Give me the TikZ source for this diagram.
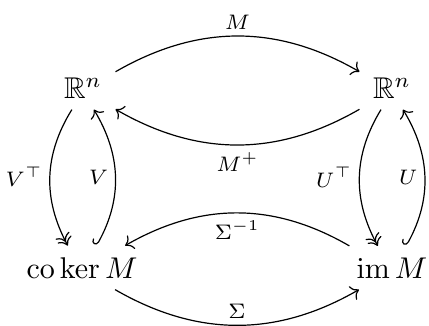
\documentclass[tikz,border=0pt]{standalone}
\usepackage{amsmath,amssymb}
\usetikzlibrary{cd}
\begin{document}
\begin{tikzpicture}[x=0.3333pt,y=-0.3333pt,
  obj/.style={shape=asymmetrical rectangle,anchor=base,inner xsep=1ex,inner ysep=0.85ex},
  arr/.style={-{tikzcd to}},
  lbl/.style={auto,font=\scriptsize,inner sep=0.5ex}]
\useasboundingbox (0,0) rectangle (429,325);
\node[obj] (A) at (83,98) {$\mathbb{R}^n$};
\node[obj] (B) at (392,98) {$\mathbb{R}^n$};
\node[obj] (C) at (82,278) {$\operatorname{co}\ker M$};
\node[obj] (D) at (392,278) {$\operatorname{im} M$};
\draw[arr] (A) to[bend left=30] node[lbl] {$M$} (B);
\draw[arr] (B) to[bend left=30] node[lbl] {$M^+$} (A);
\draw[arr,commutative diagrams/two heads] (A) to[bend right=30] node[lbl,swap] {$V^\top$} (C);
\draw[arr,commutative diagrams/hook] (C) to[bend right=30] node[lbl] {$V$} (A);
\draw[arr,commutative diagrams/two heads] (B) to[bend right=30] node[lbl,swap] {$U^\top$} (D);
\draw[arr,commutative diagrams/hook] (D) to[bend right=30] node[lbl] {$U$} (B);
\draw[arr] (D) to[bend right=30] node[lbl] {$\Sigma^{-1}$} (C);
\draw[arr] (C) to[bend right=30] node[lbl] {$\Sigma$} (D);
\end{tikzpicture}
\end{document}
